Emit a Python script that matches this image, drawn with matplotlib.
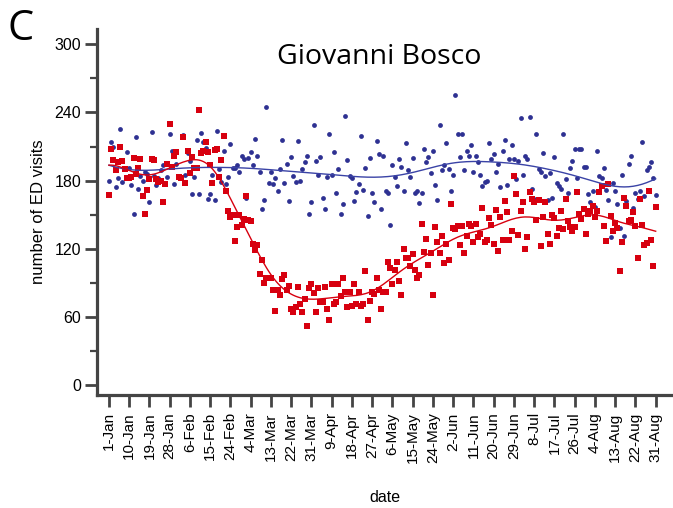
import numpy as np
import matplotlib
matplotlib.use("Agg")
import matplotlib.pyplot as plt
import datetime as dt

# ---------------- data ----------------
start_date = dt.date(2020, 1, 1)
n_days = 244

visits_2019 = [
    180, 214, 210, 174, 182, 225, 179, 191, 205, 191,
    176, 151, 218, 173, 184, 180, 188, 186, 161, 223,
    184, 176, 182, 189, 194, 178, 183, 221, 206, 177,
    195, 183, 183, 220, 185, 204, 197, 168, 183, 216,
    168, 222, 214, 209, 164, 168, 185, 163, 224, 190,
    179, 206, 177, 183, 212, 191, 191, 194, 188, 202,
    199, 165, 200, 205, 194, 217, 202, 188, 155, 163,
    245, 178, 188, 177, 182, 171, 190, 216, 178, 195,
    162, 201, 184, 179, 215, 180, 190, 196, 202, 151,
    161, 229, 197, 185, 201, 165, 155, 183, 221, 185,
    205, 169, 190, 151, 159, 237, 198, 184, 182, 162,
    170, 177, 219, 172, 191, 149, 200, 169, 161, 215,
    203, 155, 202, 171, 169, 141, 194, 183, 175, 199,
    192, 171, 213, 189, 183, 200, 169, 171, 160, 169,
    208, 196, 201, 187, 206, 176, 163, 229, 189, 194,
    213, 190, 171, 185, 255, 221, 201, 221, 189, 206,
    202, 211, 188, 202, 196, 185, 175, 179, 180, 213,
    199, 203, 188, 195, 174, 206, 216, 176, 199, 211,
    199, 181, 197, 235, 185, 202, 199, 236, 173, 164,
    221, 190, 188, 204, 184, 163, 187, 165, 201, 178,
    175, 173, 221, 181, 169, 191, 197, 208, 182, 208,
    208, 192, 192, 168, 161, 171, 157, 206, 184, 182,
    191, 172, 163, 130, 178, 171, 159, 138, 185, 131,
    162, 195, 202, 156, 169, 164, 171, 214, 166, 189,
    192, 196, 182, 167,
]

visits_2020 = [
    167, 208, 198, 189, 196, 210, 197, 190, 182, 182,
    183, 200, 186, 191, 199, 166, 151, 172, 181, 199,
    198, 181, 179, 180, 161, 177, 195, 230, 192, 202,
    205, 183, 182, 218, 178, 206, 187, 201, 191, 191,
    242, 204, 206, 214, 205, 194, 178, 207, 208, 183,
    198, 219, 171, 153, 148, 150, 127, 139, 150, 141,
    146, 166, 145, 144, 124, 119, 123, 98, 110, 90,
    94, 94, 94, 84, 65, 84, 79, 93, 97, 84,
    87, 67, 64, 69, 86, 71, 64, 76, 52, 85,
    89, 81, 64, 85, 73, 73, 86, 67, 57, 89,
    71, 73, 89, 78, 94, 82, 69, 82, 70, 89,
    71, 82, 70, 71, 100, 57, 74, 82, 80, 94,
    84, 67, 82, 82, 108, 103, 89, 101, 108, 92,
    79, 120, 112, 112, 105, 115, 101, 94, 97, 142,
    117, 129, 106, 116, 79, 139, 126, 116, 131, 107,
    124, 110, 159, 138, 137, 140, 123, 140, 116, 131,
    142, 140, 126, 142, 130, 133, 156, 126, 128, 147,
    141, 124, 154, 118, 148, 128, 162, 152, 128, 136,
    184, 168, 132, 153, 161, 120, 130, 170, 164, 161,
    145, 163, 122, 148, 161, 133, 124, 150, 147, 131,
    138, 153, 137, 164, 144, 139, 136, 139, 170, 151,
    146, 155, 133, 151, 153, 158, 148, 153, 170, 175,
    140, 127, 177, 149, 136, 143, 138, 100, 126, 165,
    158, 144, 145, 152, 140, 112, 164, 141, 123, 125,
    171, 128, 105, 157,
]

tick_step_days = 9
y_ticks = [0, 60, 120, 180, 240, 300]

# ---------------- helpers ----------------
def local_linear(x, y, bw):
    x = np.asarray(x, float)
    y = np.asarray(y, float)
    out = np.empty_like(x)
    for i, x0 in enumerate(x):
        w = np.exp(-0.5 * ((x - x0) / bw) ** 2)
        X = np.vstack([np.ones_like(x), x - x0]).T
        W = np.diag(w)
        beta = np.linalg.lstsq(X.T @ W @ X, X.T @ W @ y, rcond=None)[0]
        out[i] = beta[0]
    return out

days = np.arange(n_days)
blue = np.array(visits_2019, float)
red = np.array(visits_2020, float)

blue_s = local_linear(days, blue, 13.0)
red_s = local_linear(days, red, 7.0)

# ---------------- figure ----------------
plt.rcParams['font.family'] = ['Liberation Sans', 'DejaVu Sans']
fig = plt.figure(figsize=(6.73, 5.08), dpi=100)
ax = fig.add_axes([97 / 673, 113 / 508, 1 - 97 / 673, (395 - 29) / 508])

c_blue = '#2E3192'
c_red = '#D7000F'

ax.scatter(days, blue, s=12, marker='o', color=c_blue, linewidths=0, zorder=3)
ax.scatter(days, red, s=15, marker='s', color=c_red, linewidths=0, zorder=3)
ax.plot(days, blue_s, color='#3A43A6', lw=1.0, zorder=4)
ax.plot(days, red_s, color=c_red, lw=1.0, zorder=4)

ax.set_xlim(-5.3, 250.7)
ax.set_ylim(-8.8, 313.5)

tick_days = np.arange(0, n_days, tick_step_days)
tick_labels = []
for d in tick_days:
    date = start_date + dt.timedelta(days=int(d))
    tick_labels.append(f"{date.day}-{date.strftime('%b')}")
ax.set_xticks(tick_days)
ax.set_xticklabels(tick_labels, rotation=90, fontsize=11)

ax.set_yticks(y_ticks)
ax.set_yticks(np.arange(30, 300, 60), minor=True)
ax.set_yticklabels([str(v) for v in y_ticks], fontsize=11.5)

spine_c = '#444444'
for s in ['top', 'right']:
    ax.spines[s].set_visible(False)
for s in ['left', 'bottom']:
    ax.spines[s].set_linewidth(2.3)
    ax.spines[s].set_color(spine_c)
ax.tick_params(axis='both', which='major', length=8.5, width=2.0, color=spine_c, pad=3)
ax.tick_params(axis='y', which='minor', length=5, width=1.6, color=spine_c)
ax.tick_params(axis='x', pad=4)

ax.set_ylabel('number of ED visits', fontsize=12, labelpad=6)
fig.text(385 / 673, 1 - 497 / 508, 'date', fontsize=11.5, ha='center', va='center')

fig.text(379 / 673, 1 - 57 / 508, 'Giovanni Bosco', fontsize=20.5,
         family=['Open Sans', 'DejaVu Sans'], ha='center', va='center')
fig.text(7 / 673, 1 - 29 / 508, 'C', fontsize=30,
         family=['Open Sans', 'DejaVu Sans'], ha='left', va='center')

fig.savefig('out.png', dpi=100)
